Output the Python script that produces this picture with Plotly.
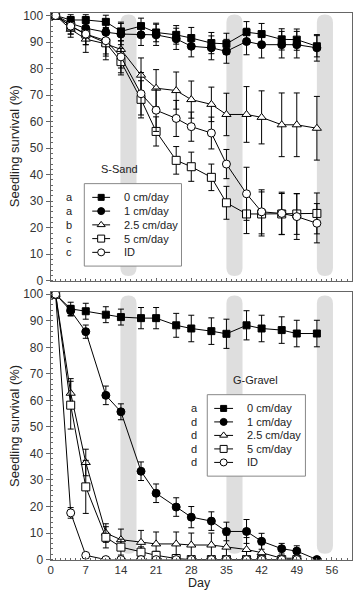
import plotly.graph_objects as go

# ---------------- data ----------------
days = [1, 4, 7, 11, 14, 18, 21, 25, 28, 32, 35, 39, 42, 46, 49, 53]
series_names = ["0 cm/day", "1 cm/day", "2.5 cm/day", "5 cm/day", "ID"]

# S-Sand (top panel)
sand_0 = [100, 98.3, 98.3, 97.6, 94.0, 96.0, 93.6, 92.7, 91.5, 89.6, 89.3, 93.7, 93.0, 91.0, 90.9, 88.4]
sand_0_err = [0, 2, 2, 2.5, 3.5, 3, 3.5, 3.5, 4, 4, 4, 4, 4, 4, 4, 4]
sand_1 = [100, 97.0, 95.2, 93.7, 93.0, 92.7, 92.7, 91.2, 88.4, 87.8, 86.5, 90.2, 89.0, 89.0, 89.0, 87.8]
sand_1_err = [0, 2.5, 3, 3.5, 4, 4, 4, 4, 4, 4.5, 4.5, 5, 5, 5, 5, 5]
sand_25 = [100, 94.8, 91.1, 89.3, 87.2, 77.5, 72.6, 71.7, 68.3, 66.5, 62.7, 62.7, 61.6, 58.8, 58.8, 57.5]
sand_25_err = [0, 3, 5, 6, 7, 6.5, 7, 7, 7, 6.5, 8, 10.5, 10, 12, 12, 12]
sand_5 = [100, 96.0, 93.0, 89.7, 82.6, 68.4, 56.3, 45.4, 43.0, 39.0, 29.4, 25.2, 25.2, 25.2, 25.2, 25.4]
sand_5_err = [0, 3, 4, 5, 5, 7, 5.5, 5.2, 5.5, 5, 6.2, 7.4, 8.3, 7.7, 7.7, 7.7]
sand_id = [100, 96.0, 93.0, 90.5, 84.4, 70.5, 64.3, 61.2, 58.1, 55.7, 44.0, 32.8, 26.0, 25.4, 24.2, 21.7]
sand_id_err = [0, 3, 4, 5, 6, 8, 8, 6.8, 5.5, 6, 5.5, 10, 8.3, 8, 8.6, 7.4]

# G-Gravel (bottom panel)
gravel_0 = [100, 94.5, 93.6, 92.3, 91.4, 91.0, 91.0, 88.3, 87.1, 86.1, 85.1, 88.3, 87.1, 86.5, 85.2, 85.2]
gravel_0_err = [0, 2.5, 3, 3, 3, 4, 4, 4.5, 5, 5, 5.5, 5.5, 5, 5, 5, 5]
gravel_1 = [100, 93.8, 85.9, 61.9, 55.7, 33.3, 25.0, 19.8, 16.0, 14.5, 10.6, 10.6, 6.9, 4.1, 3.2, 0]
gravel_1_err = [0, 2, 2.5, 3.5, 3, 3.5, 3.5, 3.5, 4, 3.5, 3.5, 4.5, 3, 2, 2, 0]
gravel_25 = [100, 62.7, 36.6, 10.0, 7.5, 6.5, 5.9, 5.9, 5.5, 5.5, 4.7, 3.8, 2.6, 0.5, 0.5]
gravel_25_err = [0, 5.5, 5, 3.5, 4, 4.5, 4.5, 4.5, 4.5, 4.5, 4.5, 4.5, 3, 0, 0]
gravel_5 = [100, 58.2, 27.4, 8.4, 4.7, 2.8, 1.6, 0.4, 0, 0, 0, 0, 0, 0, 0]
gravel_5_err = [0, 9, 10, 4, 3, 2, 1.5, 0.5, 0, 0, 0, 0, 0, 0, 0]
gravel_id = [100, 17.6, 1.6, 0, 0, 0, 0, 0, 0, 0, 0, 0, 0, 0, 0]
gravel_id_err = [0, 2, 0.5, 0, 0, 0, 0, 0, 0, 0, 0, 0, 0, 0, 0]

sand_letters = ["a", "a", "b", "c", "c"]
gravel_letters = ["a", "d", "d", "d", "d"]

# burial event bands (start day, end day)
burial_bands = [(13.9, 17.1), (35.0, 38.2), (53.0, 56.2)]

x_ticks = [0, 7, 14, 21, 28, 35, 42, 49, 56]
y_ticks = [0, 10, 20, 30, 40, 50, 60, 70, 80, 90, 100]

# ---------------- styling ----------------
W, H = 357, 598
FONT = "Liberation Sans"
TXT = "#222"
symbols = ["square", "circle", "triangle-up", "square", "circle"]
fills = ["black", "black", "white", "white", "white"]
sizes = [7, 8, 8, 8, 8]

sand = [(sand_0, sand_0_err), (sand_1, sand_1_err), (sand_25, sand_25_err),
        (sand_5, sand_5_err), (sand_id, sand_id_err)]
gravel = [(gravel_0, gravel_0_err), (gravel_1, gravel_1_err), (gravel_25, gravel_25_err),
          (gravel_5, gravel_5_err), (gravel_id, gravel_id_err)]

# plot-area geometry (pixels)
x_left, x_right = 48, 352
top_y0, top_y1 = 9, 282
bot_y0, bot_y1 = 293, 566

fig = go.Figure()

for data, xa, ya in [(sand, "x", "y"), (gravel, "x2", "y2")]:
    for i, (vals, errs) in enumerate(data):
        fig.add_trace(go.Scatter(
            x=days[:len(vals)], y=vals, xaxis=xa, yaxis=ya, showlegend=False,
            name=series_names[i], mode="lines+markers",
            line=dict(color="black", width=1),
            marker=dict(symbol=symbols[i], size=sizes[i], color=fills[i],
                        line=dict(color="black", width=1)),
            error_y=dict(type="data", array=errs, visible=True,
                         color="black", thickness=1, width=3),
        ))

# ---- legend keys drawn on pixel-unit overlay axes ----
legends = [
    dict(xa="x3", ya="y3", box=(82, 180, 183, 267), ey=197, step=14.0,
         sx=(90, 108), tx=120, lx=67, letters=sand_letters,
         label="S-Sand", label_xy=(117, 168)),
    dict(xa="x4", ya="y4", box=(206, 305, 398, 481), ey=412, step=13.75,
         sx=(213, 232), tx=244, lx=193, letters=gravel_letters,
         label="G-Gravel", label_xy=(255, 383)),
]

ann = []
for lg in legends:
    bx0, bx1, by0, by1 = lg["box"]
    fig.add_trace(go.Scatter(
        x=[bx0, bx1, bx1, bx0, bx0], y=[by0, by0, by1, by1, by0],
        xaxis=lg["xa"], yaxis=lg["ya"], mode="lines", fill="toself",
        fillcolor="white", line=dict(color="#888", width=1),
        showlegend=False, hoverinfo="skip"))
    for i, name in enumerate(series_names):
        yy = lg["ey"] + lg["step"] * i
        sx0, sx1 = lg["sx"]
        fig.add_trace(go.Scatter(
            x=[sx0, sx1], y=[yy, yy], xaxis=lg["xa"], yaxis=lg["ya"], mode="lines",
            line=dict(color="black", width=1), showlegend=False, hoverinfo="skip"))
        fig.add_trace(go.Scatter(
            x=[(sx0 + sx1) / 2], y=[yy], xaxis=lg["xa"], yaxis=lg["ya"], mode="markers",
            marker=dict(symbol=symbols[i], size=sizes[i] - 1, color=fills[i],
                        line=dict(color="black", width=1)),
            showlegend=False, hoverinfo="skip"))
        ann.append(dict(text=name, x=lg["tx"], y=yy, xref=lg["xa"], yref=lg["ya"],
                        xanchor="left", yanchor="middle", showarrow=False,
                        font=dict(family=FONT, size=11, color=TXT)))
        ann.append(dict(text=lg["letters"][i], x=lg["lx"], y=yy, xref=lg["xa"], yref=lg["ya"],
                        xanchor="center", yanchor="middle", showarrow=False,
                        font=dict(family=FONT, size=11, color=TXT)))
    ann.append(dict(text=lg["label"], x=lg["label_xy"][0], y=lg["label_xy"][1],
                    xref=lg["xa"], yref=lg["ya"], xanchor="center", yanchor="middle",
                    showarrow=False, font=dict(family=FONT, size=11, color=TXT)))

xdom = [x_left / W, x_right / W]
top_dom = [1 - top_y1 / H, 1 - top_y0 / H]
bot_dom = [1 - bot_y1 / H, 1 - bot_y0 / H]

axis_common = dict(showline=True, mirror=True, linecolor="#666", linewidth=1,
                   showgrid=False, zeroline=False, ticks="outside", ticklen=4,
                   tickcolor="#666", tickfont=dict(family=FONT, size=12, color="#333"))

xcommon = dict(axis_common, range=[0, 60], tickvals=x_ticks, ticks="inside", ticklen=3,
               tickfont=dict(family=FONT, size=11.5, color="#333"),
               minor=dict(ticks="inside", ticklen=2, dtick=1, tickcolor="#666"))
ycommon = dict(axis_common, range=[0, 101], tickvals=y_ticks,
               minor=dict(ticks="inside", ticklen=2, dtick=2, tickcolor="#666"))

fig.update_layout(
    width=W, height=H, margin=dict(l=0, r=0, t=0, b=0),
    paper_bgcolor="white", plot_bgcolor="white", showlegend=False,
    xaxis=dict(xcommon, domain=xdom, anchor="y", showticklabels=False),
    yaxis=dict(ycommon, domain=top_dom, anchor="x"),
    xaxis2=dict(xcommon, domain=xdom, anchor="y2"),
    yaxis2=dict(ycommon, domain=bot_dom, anchor="x2"),
    xaxis3=dict(overlaying="x", anchor="y3", range=[x_left, x_right], visible=False),
    yaxis3=dict(overlaying="y", anchor="x3", range=[top_y1, top_y0], visible=False),
    xaxis4=dict(overlaying="x2", anchor="y4", range=[x_left, x_right], visible=False),
    yaxis4=dict(overlaying="y2", anchor="x4", range=[bot_y1, bot_y0], visible=False),
)

# grey rounded burial bands
def band_path(x0, x1, yb, yt, r):
    xm = (x0 + x1) / 2
    return (f"M {x0},{yb + r} L {x0},{yt - r} Q {x0},{yt} {xm},{yt} "
            f"Q {x1},{yt} {x1},{yt - r} L {x1},{yb + r} "
            f"Q {x1},{yb} {xm},{yb} Q {x0},{yb} {x0},{yb + r} Z")

for xa, ya, yb, yt in [("x", "y", 1.8, 100.4), ("x2", "y2", 2.2, 99.5)]:
    for (b0, b1) in burial_bands:
        fig.add_shape(type="path", path=band_path(b0, b1, yb, yt, 3.0),
                      xref=xa, yref=ya, fillcolor="#dedede",
                      line=dict(width=0), layer="below")

def pan(text, px, py, size, angle=0, yanchor="middle"):
    return dict(text=text, x=px / W, y=1 - py / H, xref="paper", yref="paper",
                xanchor="center", yanchor=yanchor, textangle=angle, showarrow=False,
                borderpad=0, font=dict(family=FONT, size=size, color=TXT))

ann.append(pan("Seedling survival (%)", 11, 145, 13, -90))
ann.append(pan("Seedling survival (%)", 11, 430, 13, -90))
ann.append(pan("Day", 198, 598, 12.5, yanchor="bottom"))
fig.update_layout(annotations=ann)

fig.write_html("out.html")
